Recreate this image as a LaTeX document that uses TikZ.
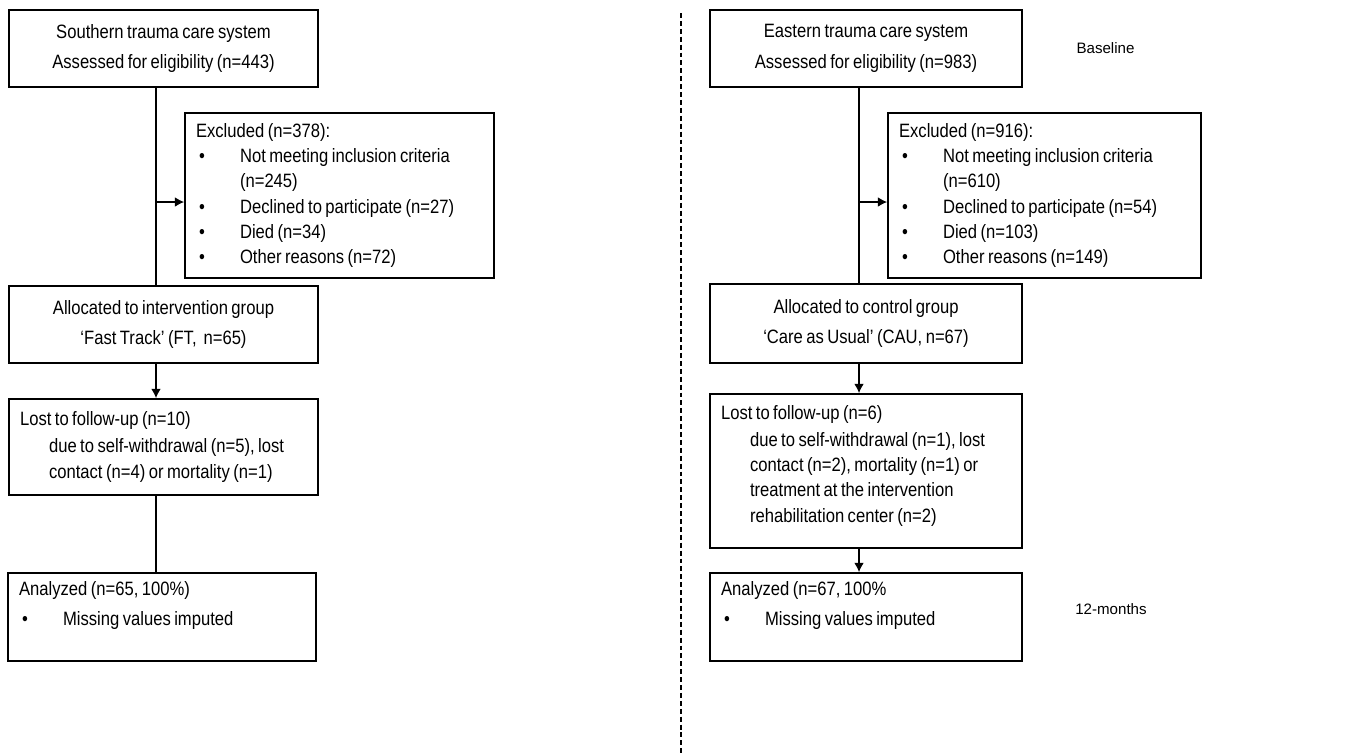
\documentclass[tikz,border=0pt]{standalone}
\usepackage{fontspec}
\usepackage{tikz}
\usetikzlibrary{arrows.meta}
\setmainfont[FakeStretch=0.86, WordSpace=0.75]{Liberation Sans}
\newfontfamily\plainsans{Liberation Sans}
\newcommand{\bul}{\hspace*{0.06cm}\makebox[0.82cm][l]{\textbullet}}
\newcommand{\cont}{\hspace*{0.88cm}}
\newcommand{\sub}{\hspace*{0.58cm}}

\begin{document}
\begin{tikzpicture}
  [x=0.02cm, y=-0.02cm,
  font=\fontsize{11}{14.4}\selectfont,
  block/.style={rectangle, draw=black, line width=1.1pt, align=center, inner xsep=0.22cm, inner ysep=0pt},
  listblock/.style={rectangle, draw=black, line width=1.1pt, align=flush left, inner xsep=0.22cm, inner ysep=0pt},
  line/.style={draw, line width=0.6pt},
  arrowline/.style={draw, line width=0.6pt, -{Latex[length=5.2pt,width=5.4pt]}},
  stage/.style={font=\plainsans\fontsize{8.6}{10}\selectfont},
  divider/.style={draw, line width=1.2pt, dash pattern=on 2.8pt off 1.7pt}]
  \useasboundingbox (0,0) rectangle (1354,755);
  % nodes, southern system
  \node [block, minimum width=6.18cm, minimum height=1.54cm] (south) at (163.5,48.5)
    {Southern trauma care system\\[3pt] Assessed for eligibility (n=443)};
  \node [listblock, text width=5.74cm, minimum height=3.3cm] (exclS) at (339.5,195.5)
    {Excluded (n=378):\\
     \bul Not meeting inclusion criteria\\
     \cont(n=245)\\
     \bul Declined to participate (n=27)\\
     \bul Died (n=34)\\
     \bul Other reasons (n=72)};
  \node [block, minimum width=6.18cm, minimum height=1.54cm] (allocS) at (163.5,324.5)
    {Allocated to intervention group\\[3pt] ‘Fast Track’ (FT,\ \ n=65)};
  \node [listblock, text width=5.74cm, minimum height=1.92cm] (lostS) at (163.5,447)
    {Lost to follow-up (n=10)\\[1pt]
     \sub due to self-withdrawal (n=5), lost\\
     \sub contact (n=4) or mortality (n=1)};
  \node [listblock, text width=5.72cm, minimum height=1.76cm] (anaS) at (162,617)
    {Analyzed (n=65, 100\%)\\[3pt]
     \bul Missing values imputed\\[1pt]\mbox{}};
  % nodes, eastern system
  \node [block, minimum width=6.24cm, minimum height=1.54cm] (east) at (866,48.5)
    {Eastern trauma care system\\[3pt] Assessed for eligibility (n=983)};
  \node [listblock, text width=5.82cm, minimum height=3.3cm] (exclE) at (1044.5,195.5)
    {Excluded (n=916):\\
     \bul Not meeting inclusion criteria\\
     \cont(n=610)\\
     \bul Declined to participate (n=54)\\
     \bul Died (n=103)\\
     \bul Other reasons (n=149)};
  \node [block, minimum width=6.24cm, minimum height=1.58cm] (allocE) at (866,323.5)
    {Allocated to control group\\[3pt] ‘Care as Usual’ (CAU, n=67)};
  \node [listblock, text width=5.8cm, minimum height=3.08cm] (lostE) at (866,471)
    {Lost to follow-up (n=6)\\[1pt]
     \sub due to self-withdrawal (n=1), lost\\
     \sub contact (n=2), mortality (n=1) or\\
     \sub treatment at the intervention\\
     \sub rehabilitation center (n=2)\\[-6pt]\mbox{}};
  \node [listblock, text width=5.8cm, minimum height=1.76cm] (anaE) at (866,617)
    {Analyzed (n=67, 100\%\\[3pt]
     \bul Missing values imputed\\[1pt]\mbox{}};
  % stage labels
  \node [stage] (base) at (1105.5,48) {Baseline};
  \node [stage] (months) at (1111,609) {12-months};
  % trunk points
  \coordinate (trunkS) at (156,0);
  \coordinate (trunkE) at (859,0);
  \coordinate (splitS) at (156,202);
  \coordinate (splitE) at (859,202);
  % edges
  \path [line] (south.south -| trunkS) -- (allocS.north -| trunkS);
  \path [arrowline] (splitS) -- (splitS -| exclS.west);
  \path [arrowline] (allocS.south -| trunkS) -- (lostS.north -| trunkS);
  \path [line] (lostS.south -| trunkS) -- (anaS.north -| trunkS);
  \path [line] (east.south -| trunkE) -- (allocE.north -| trunkE);
  \path [arrowline] (splitE) -- (splitE -| exclE.west);
  \path [arrowline] (allocE.south -| trunkE) -- (lostE.north -| trunkE);
  \path [arrowline] (lostE.south -| trunkE) -- (anaE.north -| trunkE);
  % divider
  \path [divider] (681,13) -- (681,755);
\end{tikzpicture}
\end{document}
